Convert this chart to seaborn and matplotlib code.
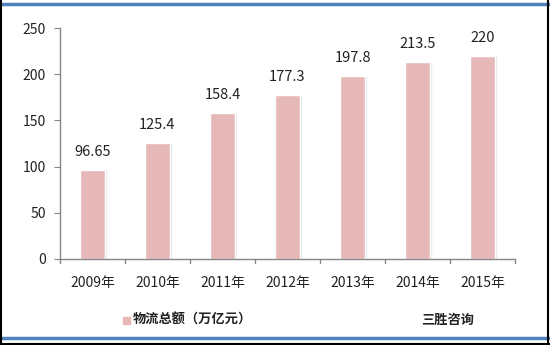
import matplotlib
matplotlib.use("Agg")
import matplotlib.pyplot as plt
import seaborn as sns
import pandas as pd
from matplotlib.patches import Rectangle
from matplotlib.lines import Line2D

years = ["2009年", "2010年", "2011年", "2012年", "2013年", "2014年", "2015年"]
values = [96.65, 125.4, 158.4, 177.3, 197.8, 213.5, 220]
value_labels = ["96.65", "125.4", "158.4", "177.3", "197.8", "213.5", "220"]
yticks = [0, 50, 100, 150, 200, 250]
legend_label = "物流总额（万亿元）"
source_label = "三胜咨询"

sns.set_style("white")
plt.rcParams['font.family'] = ['Noto Sans CJK SC', 'DejaVu Sans']

df = pd.DataFrame({"year": years, "value": values})

fig = plt.figure(figsize=(5.5, 3.45), dpi=100)
ax = fig.add_axes([60/550, 1-259/345, 455/550, 231/345])

bar_color = "#E6B9B8"
# shadow bars
sns.barplot(data=df, x="year", y="value", ax=ax, color="#D9D9D9", width=0.37,
            saturation=1, zorder=1)
for p in ax.patches:
    p.set_x(p.get_x() + 0.045)
    p.set_alpha(0.7)
sns.barplot(data=df, x="year", y="value", ax=ax, color=bar_color, width=0.37,
            saturation=1, zorder=2)

ax.set_ylim(0, 250)
ax.set_xlim(-0.5, len(years) - 0.5)
ax.set_yticks(yticks)
ax.set_xlabel("")
ax.set_ylabel("")
for s in ["top", "right"]:
    ax.spines[s].set_visible(False)
for s in ["left", "bottom"]:
    ax.spines[s].set_color("#868686")
    ax.spines[s].set_linewidth(1.0)

ax.tick_params(axis="y", length=4, color="#868686", labelsize=10, pad=6,
               left=True, labelcolor="#222222")
ax.tick_params(axis="x", bottom=False, labelsize=10, pad=9, labelcolor="#222222")
# x ticks at category boundaries
for b in [i + 0.5 for i in range(-1, len(years))]:
    ax.plot([b, b], [0, -0.018], transform=ax.get_xaxis_transform(),
            color="#868686", lw=1.0, clip_on=False)

for i, (v, lab) in enumerate(zip(values, value_labels)):
    ax.text(i, v + 12, lab, ha="center", va="bottom", fontsize=10.5, color="#222222")

# legend
fig.patches.append(Rectangle((123/550, 1-324/345), 7/550, 7/345,
                             transform=fig.transFigure, color=bar_color))
fig.text(133/550, 1-320/345, legend_label, fontsize=9.5, fontweight="bold",
         va="center", ha="left", color="#222222")
fig.text(421/550, 1-320/345, source_label, fontsize=9.5, fontweight="bold",
         va="center", ha="left", color="#222222")

# frame and blue lines
fig.lines.append(Line2D([0, 1], [1-4/345, 1-4/345], transform=fig.transFigure,
                        color="#4F81BD", lw=2.5))
fig.lines.append(Line2D([0, 1], [1-338/345, 1-338/345], transform=fig.transFigure,
                        color="#4F81BD", lw=2.5))
fig.lines.append(Line2D([0.002, 0.002], [0, 1], transform=fig.transFigure,
                        color="black", lw=1.5))
fig.lines.append(Line2D([548/550, 548/550], [0, 1], transform=fig.transFigure,
                        color="black", lw=1.5))
fig.lines.append(Line2D([0, 1], [0.003, 0.003], transform=fig.transFigure,
                        color="black", lw=1.5))

fig.savefig("out.png", dpi=100)
